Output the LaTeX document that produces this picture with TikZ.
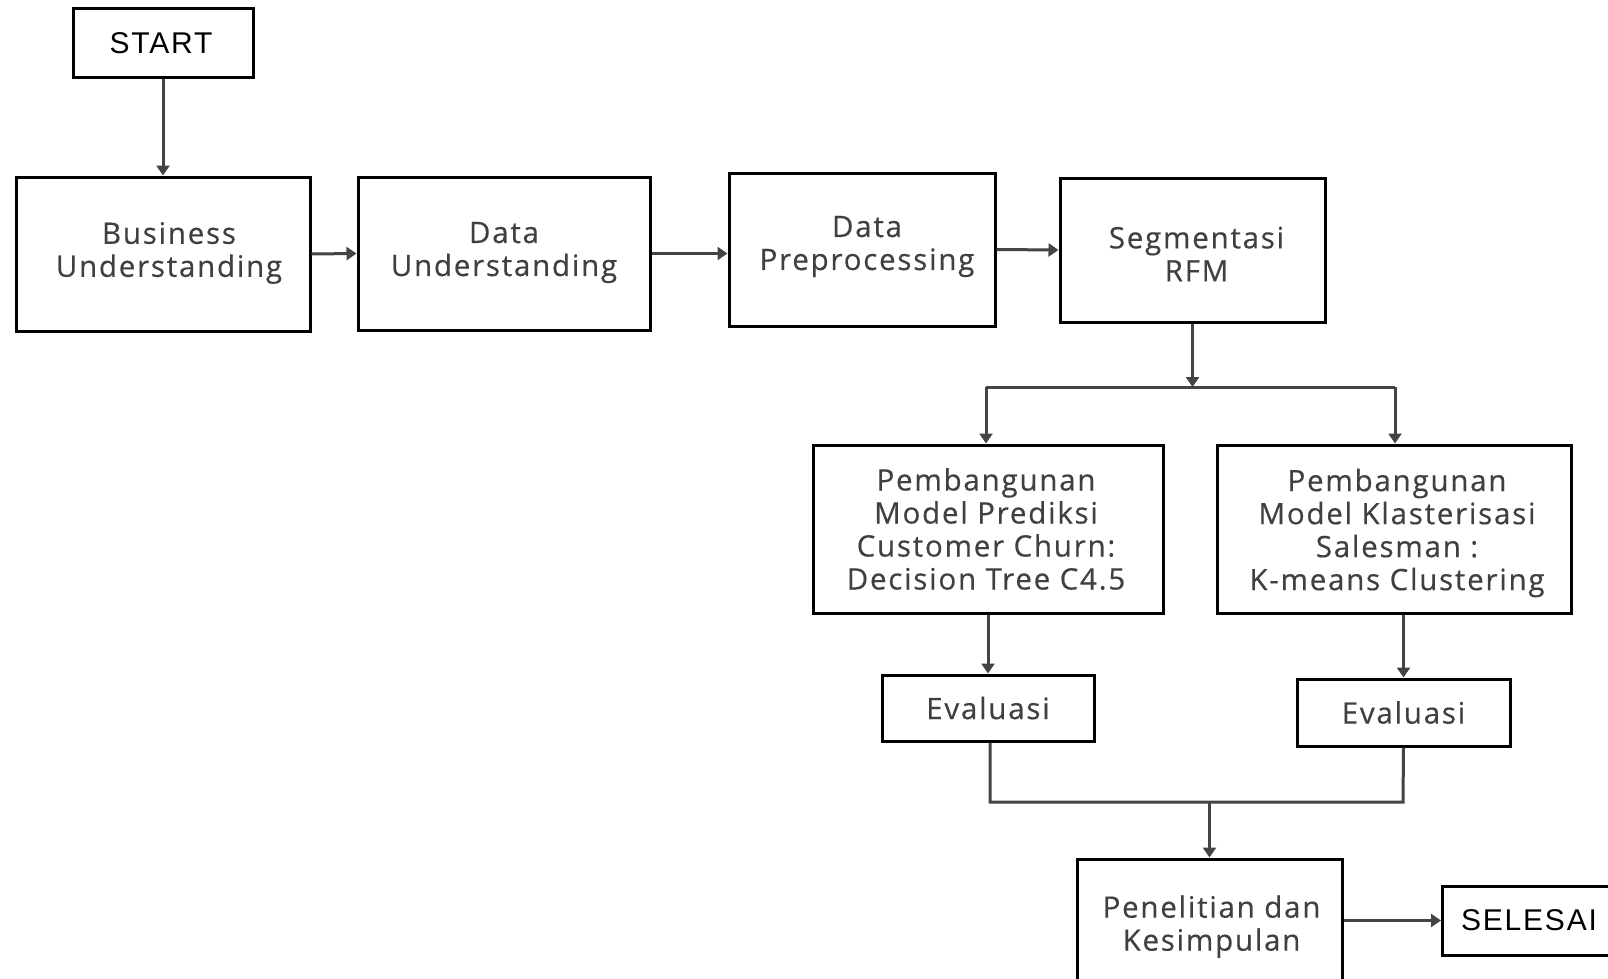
\documentclass[tikz,border=0pt]{standalone}
\usepackage{fontspec}
\usetikzlibrary{arrows.meta,calc}
\newfontfamily\boxfont[LetterSpace=6,FakeBold=0.4]{Open Sans}
\newfontfamily\endfont[LetterSpace=6]{Liberation Sans}
\definecolor{txtgray}{HTML}{404040}
\definecolor{arrgray}{HTML}{444444}
\begin{document}
\begin{tikzpicture}[x=1pt,y=-1pt,
  box/.style={draw=black,line width=3pt,rectangle,inner sep=0pt},
  lbl/.style={inner sep=0pt,align=center,text=txtgray,font=\boxfont\fontsize{29.5}{33}\selectfont},
  endlbl/.style={lbl,text=black,font=\endfont\fontsize{30}{33}\selectfont},
  conn/.style={draw=arrgray,line width=3pt},
  arr/.style={conn,-{Triangle[length=10pt,width=13pt]}}]
\clip (0,0) rectangle (1608,979);
\fill[white] (0,0) rectangle (1608,979);
% boxes
\node[box,minimum width=180pt,minimum height=69pt] (start) at (163,43.5) {};
\node[box,minimum width=294pt,minimum height=154pt] (bu) at (163,254) {};
\node[box,minimum width=292pt,minimum height=153pt] (du) at (504,253.5) {};
\node[box,minimum width=266pt,minimum height=153pt] (dp) at (862,249.5) {};
\node[box,minimum width=265pt,minimum height=144pt] (seg) at (1192.5,250) {};
\node[box,minimum width=350pt,minimum height=168pt] (pl) at (988,529) {};
\node[box,minimum width=354pt,minimum height=168pt] (pr) at (1394,529) {};
\node[box,minimum width=212pt,minimum height=66pt] (el) at (988,708) {};
\node[box,minimum width=213pt,minimum height=67pt] (er) at (1403.5,712.5) {};
\node[box,minimum width=265pt,minimum height=131pt] (pk) at (1209.5,924.5) {};
\node[box,minimum width=177pt,minimum height=69pt] (se) at (1531,920.5) {};
% labels
\node[endlbl] (start-t) at ($(start)+(-2,0)$) {START};
\node[lbl] (bu-t) at ($(bu)+(6,-1)$) {Business\\Understanding};
\node[lbl] (du-t) at ($(du)+(0,-1)$) {Data\\Understanding};
\node[lbl] (dp-t) at ($(dp)+(5,-3)$) {Data\\Preprocessing};
\node[lbl] (seg-t) at ($(seg)+(4,4)$) {Segmentasi\\RFM};
\node[lbl] (pl-t) at ($(pl)+(-2,0)$) {Pembangunan\\Model Prediksi\\Customer Churn:\\Decision Tree C4.5};
\node[lbl] (pr-t) at ($(pr)+(3,4)$) {Pembangunan\\Model Klasterisasi\\Salesman :\\K-means Clustering};
\node[lbl] (el-t) at (el) {Evaluasi};
\node[lbl] (er-t) at (er) {Evaluasi};
\node[lbl] (pk-t) at ($(pk)+(2,2)$) {Penelitian dan\\Kesimpulan};
\node[endlbl] (se-t) at ($(se)+(-2,0)$) {SELESAI};
% connectors
\draw[arr] (start.south) -- (bu.north);
\draw[arr] (bu.east) -- (du.west);
\draw[arr] (du.east) -- (dp.west |- du.east);
\draw[arr] (dp.east) -- (seg.west);
\coordinate (bL) at (986,387);
\coordinate (bR) at (1395,387);
\draw[arr] (seg.south) -- (seg.south |- bL);
\draw[conn] (bL) -- (bR);
\draw[arr] (bL) -- (bL |- pl.north);
\draw[arr] (bR) -- (bR |- pr.north);
\draw[arr] (pl.south) -- (el.north);
\draw[arr] (er.north |- pr.south) -- (er.north);
\coordinate (mL) at (990,802);
\coordinate (mR) at (1403,802);
\draw[conn,line join=miter] (mL |- el.south) -- (mL) -- (mR) -- (er.south);
\draw[arr] (pk.north |- mL) -- (pk.north);
\draw[arr] (pk.east |- se.west) -- (se.west);
\end{tikzpicture}
\end{document}
